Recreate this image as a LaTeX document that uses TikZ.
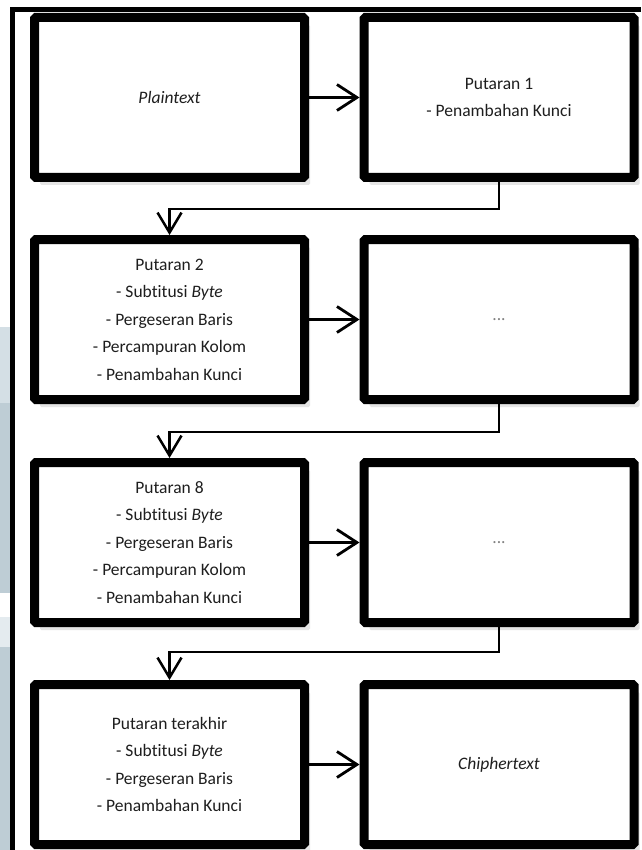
\documentclass[tikz,border=0pt]{standalone}
\usepackage{fontspec}
\setmainfont[Ligatures=NoCommon]{Carlito}
\usetikzlibrary{arrows.meta,shadows}

\definecolor{slideblue}{RGB}{190,205,213}
\definecolor{slidelight}{RGB}{212,223,229}
\definecolor{slidepale}{RGB}{228,235,239}
\definecolor{ink}{RGB}{30,30,30}

\tikzset{
  roundbox/.style={draw=black, fill=white, line width=9pt, rounded corners=1.5pt,
    minimum width=270pt, minimum height=160pt, align=center, text=ink,
    font=\fontsize{17.5}{27.5}\selectfont,
    drop shadow={shadow xshift=5.5pt, shadow yshift=-7.5pt, fill=black!10, opacity=1}},
  flowarrow/.style={line width=3.5pt, -{Straight Barb[length=20pt,width=26pt,line width=2.8pt]}},
  turnline/.style={line width=2.5pt, -{Straight Barb[length=20pt,width=24pt,line width=2.5pt]}},
  framerule/.style={line width=4.5pt, black}
}

\begin{document}
\begin{tikzpicture}[x=1pt,y=-1pt]
  \useasboundingbox (0,0) rectangle (641,850);
  \fill[white] (0,0) rectangle (641,850);

  % slide background strip on the left
  \fill[slidelight] (0,327) rectangle (10,403);
  \fill[slideblue]  (0,403) rectangle (10,593);
  \fill[slidepale]  (0,617) rectangle (10,647);
  \fill[slideblue]  (0,647) rectangle (10,850);

  % outer frame
  \coordinate (fTL) at (12.5,9.5);
  \coordinate (fTR) at (641,9.5);
  \coordinate (fBL) at (12.5,850);
  \draw[framerule] (fBL) -- (fTL) -- (fTR);

  % boxes
  \node[roundbox] (b1) at (169.5,97.5) {\itshape Plaintext};
  \node[roundbox] (b2) at (499,97.5) {Putaran 1\\- Penambahan Kunci};

  \node[roundbox] (b3) at (169.5,319.5) {Putaran 2\\- Subtitusi \textit{Byte}\\- Pergeseran Baris\\- Percampuran Kolom\\- Penambahan Kunci};
  \node[roundbox] (b4) at (499,319.5) {\textcolor{black!50}{...}};

  \node[roundbox] (b5) at (169.5,542.5) {Putaran 8\\- Subtitusi \textit{Byte}\\- Pergeseran Baris\\- Percampuran Kolom\\- Penambahan Kunci};
  \node[roundbox] (b6) at (499,542.5) {\textcolor{black!50}{...}};

  \node[roundbox] (b7) at (169.5,764.5) {Putaran terakhir\\- Subtitusi \textit{Byte}\\- Pergeseran Baris\\- Penambahan Kunci};
  \node[roundbox] (b8) at (499,764.5) {\itshape Chiphertext};

  % horizontal arrows
  \draw[flowarrow] (b1.east) -- (b2.west);
  \draw[flowarrow] (b3.east) -- (b4.west);
  \draw[flowarrow] (b5.east) -- (b6.west);
  \draw[flowarrow] (b7.east) -- (b8.west);

  % turn-around connectors
  \coordinate (k1) at (0,209);
  \coordinate (k2) at (0,432);
  \coordinate (k3) at (0,652);
  \draw[turnline] (b2.south) |- (b3.north |- k1) -- (b3.north);
  \draw[turnline] (b4.south) |- (b5.north |- k2) -- (b5.north);
  \draw[turnline] (b6.south) |- (b7.north |- k3) -- (b7.north);
\end{tikzpicture}
\end{document}
